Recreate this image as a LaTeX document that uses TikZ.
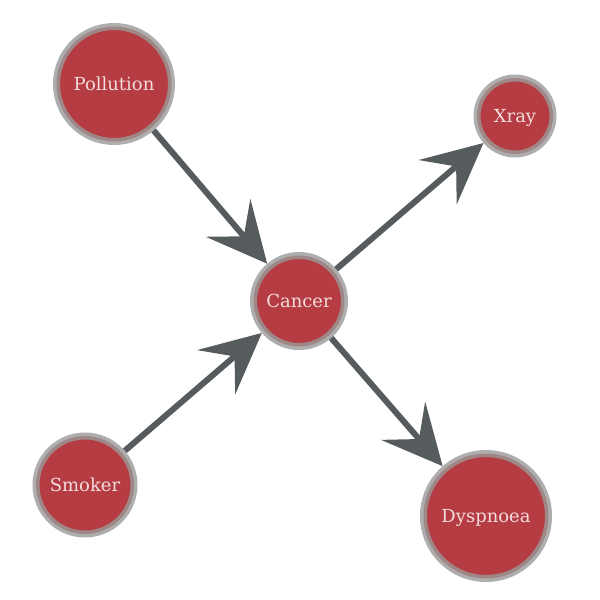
\documentclass[tikz,border=0pt]{standalone}
\usepackage{fontspec}
\setmainfont{DejaVu Serif}
\usetikzlibrary{arrows.meta}
\definecolor{nodered}{HTML}{B53C42}
\definecolor{ringgray}{HTML}{9A9A9A}
\definecolor{edgegray}{HTML}{565B5D}
\definecolor{txt}{HTML}{F3DCDC}
\tikzset{
  bn/.style={circle, fill=nodered, draw=ringgray, draw opacity=0.8, line width=7pt,
    inner sep=0pt, minimum size=#1, text=txt, text height=17pt, text depth=4pt,
    font=\fontsize{18}{20}\selectfont},
  edge/.style={draw=edgegray, line width=6pt,
    -{Stealth[length=60pt, width=58pt, inset=24pt]}, shorten >=0pt}
}
\begin{document}
\begin{tikzpicture}[x=1pt, y=-1pt]
\useasboundingbox (0,0) rectangle (600,600);
\node[bn=115pt] (pol) at (114,84) {Pollution};
\node[bn=76pt] (xray) at (515,116) {Xray};
\node[bn=91pt] (can) at (299,301) {Cancer};
\node[bn=98pt] (smo) at (85,485) {Smoker};
\node[bn=125pt] (dys) at (486,516) {Dyspnoea};
\draw[edge] (pol) -- (can);
\draw[edge] (smo) -- (can);
\draw[edge] (can) -- (xray);
\draw[edge] (can) -- (dys);
\end{tikzpicture}
\end{document}
